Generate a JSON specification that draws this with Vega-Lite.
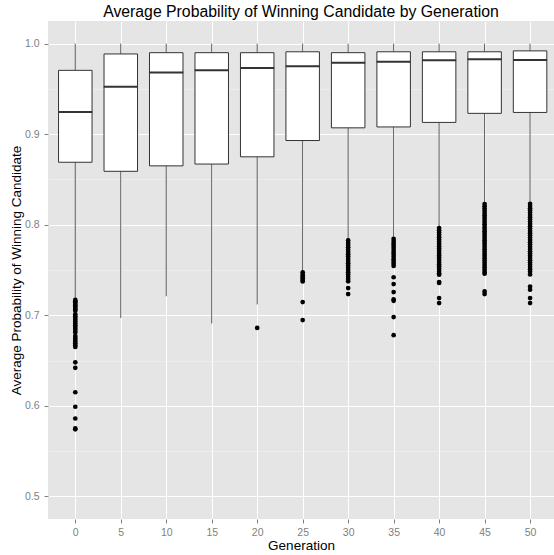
{
  "$schema": "https://vega.github.io/schema/vega-lite/v6.json",
  "autosize": {"type": "none"},
  "padding": {"left": 48, "top": 21, "right": 0, "bottom": 36},
  "width": 506,
  "height": 498,
  "background": "#FFFFFF",
  "title": {
    "text": "Average Probability of Winning Candidate by Generation",
    "font": "Liberation Sans",
    "fontSize": 15.8,
    "fontWeight": "normal",
    "color": "#000000",
    "anchor": "middle",
    "offset": 0
  },
  "config": {
    "view": {"stroke": null, "fill": "#E5E5E5"},
    "font": "Liberation Sans",
    "axis": {
      "domain": false,
      "labelFont": "Liberation Sans",
      "labelFontSize": 10.5,
      "labelColor": "#7F7F7F",
      "tickColor": "#7F7F7F",
      "tickSize": 4,
      "titleFont": "Liberation Sans",
      "titleFontSize": 13.5,
      "titleFontWeight": "normal",
      "titleColor": "#000000",
      "gridColor": "#FFFFFF",
      "gridWidth": 1
    }
  },
  "datasets": {
    "boxes": [
      {"generation": 0, "lower": 0.718, "q1": 0.869, "median": 0.9245, "q3": 0.9705, "upper": 1.0},
      {"generation": 5, "lower": 0.697, "q1": 0.859, "median": 0.9525, "q3": 0.9886, "upper": 1.0},
      {"generation": 10, "lower": 0.721, "q1": 0.865, "median": 0.968, "q3": 0.990, "upper": 1.0},
      {"generation": 15, "lower": 0.691, "q1": 0.867, "median": 0.9705, "q3": 0.990, "upper": 1.0},
      {"generation": 20, "lower": 0.712, "q1": 0.875, "median": 0.973, "q3": 0.990, "upper": 1.0},
      {"generation": 25, "lower": 0.748, "q1": 0.893, "median": 0.975, "q3": 0.991, "upper": 1.0},
      {"generation": 30, "lower": 0.784, "q1": 0.907, "median": 0.979, "q3": 0.990, "upper": 1.0},
      {"generation": 35, "lower": 0.786, "q1": 0.908, "median": 0.980, "q3": 0.991, "upper": 1.0},
      {"generation": 40, "lower": 0.796, "q1": 0.913, "median": 0.9816, "q3": 0.991, "upper": 1.0},
      {"generation": 45, "lower": 0.823, "q1": 0.923, "median": 0.9827, "q3": 0.991, "upper": 1.0},
      {"generation": 50, "lower": 0.824, "q1": 0.924, "median": 0.982, "q3": 0.992, "upper": 1.0}
    ],
    "outliers": [
      {"generation": 0, "value": 0.717}, {"generation": 0, "value": 0.7155}, {"generation": 0, "value": 0.714},
      {"generation": 0, "value": 0.7125}, {"generation": 0, "value": 0.711}, {"generation": 0, "value": 0.7095},
      {"generation": 0, "value": 0.708}, {"generation": 0, "value": 0.7065}, {"generation": 0, "value": 0.705},
      {"generation": 0, "value": 0.701}, {"generation": 0, "value": 0.699}, {"generation": 0, "value": 0.697},
      {"generation": 0, "value": 0.695}, {"generation": 0, "value": 0.693}, {"generation": 0, "value": 0.691},
      {"generation": 0, "value": 0.689}, {"generation": 0, "value": 0.687}, {"generation": 0, "value": 0.685},
      {"generation": 0, "value": 0.683}, {"generation": 0, "value": 0.681},
      {"generation": 0, "value": 0.677}, {"generation": 0, "value": 0.675}, {"generation": 0, "value": 0.673},
      {"generation": 0, "value": 0.671}, {"generation": 0, "value": 0.669}, {"generation": 0, "value": 0.667},
      {"generation": 0, "value": 0.665},
      {"generation": 0, "value": 0.648}, {"generation": 0, "value": 0.642}, {"generation": 0, "value": 0.615},
      {"generation": 0, "value": 0.599}, {"generation": 0, "value": 0.586}, {"generation": 0, "value": 0.575},
      {"generation": 0, "value": 0.574},
      {"generation": 20, "value": 0.686},
      {"generation": 25, "value": 0.7474}, {"generation": 25, "value": 0.745}, {"generation": 25, "value": 0.743},
      {"generation": 25, "value": 0.741}, {"generation": 25, "value": 0.739}, {"generation": 25, "value": 0.7374},
      {"generation": 25, "value": 0.7146}, {"generation": 25, "value": 0.6947},
      {"generation": 30, "value": 0.7827}, {"generation": 30, "value": 0.780}, {"generation": 30, "value": 0.7775},
      {"generation": 30, "value": 0.775}, {"generation": 30, "value": 0.7725}, {"generation": 30, "value": 0.770},
      {"generation": 30, "value": 0.7675}, {"generation": 30, "value": 0.765}, {"generation": 30, "value": 0.7625},
      {"generation": 30, "value": 0.760}, {"generation": 30, "value": 0.7575}, {"generation": 30, "value": 0.755},
      {"generation": 30, "value": 0.7525}, {"generation": 30, "value": 0.750}, {"generation": 30, "value": 0.7475},
      {"generation": 30, "value": 0.745}, {"generation": 30, "value": 0.7425}, {"generation": 30, "value": 0.740},
      {"generation": 30, "value": 0.7375}, {"generation": 30, "value": 0.730}, {"generation": 30, "value": 0.7234},
      {"generation": 35, "value": 0.7845}, {"generation": 35, "value": 0.782}, {"generation": 35, "value": 0.7795},
      {"generation": 35, "value": 0.777}, {"generation": 35, "value": 0.7745}, {"generation": 35, "value": 0.772},
      {"generation": 35, "value": 0.7695}, {"generation": 35, "value": 0.767}, {"generation": 35, "value": 0.7645},
      {"generation": 35, "value": 0.762}, {"generation": 35, "value": 0.7595}, {"generation": 35, "value": 0.757},
      {"generation": 35, "value": 0.7545}, {"generation": 35, "value": 0.742}, {"generation": 35, "value": 0.7345},
      {"generation": 35, "value": 0.7256}, {"generation": 35, "value": 0.7175}, {"generation": 35, "value": 0.716},
      {"generation": 35, "value": 0.698}, {"generation": 35, "value": 0.678},
      {"generation": 40, "value": 0.7963}, {"generation": 40, "value": 0.7938}, {"generation": 40, "value": 0.7913},
      {"generation": 40, "value": 0.7888}, {"generation": 40, "value": 0.7863}, {"generation": 40, "value": 0.7838},
      {"generation": 40, "value": 0.7813}, {"generation": 40, "value": 0.7788}, {"generation": 40, "value": 0.7763},
      {"generation": 40, "value": 0.7738}, {"generation": 40, "value": 0.7713}, {"generation": 40, "value": 0.7688},
      {"generation": 40, "value": 0.7663}, {"generation": 40, "value": 0.7638}, {"generation": 40, "value": 0.7613},
      {"generation": 40, "value": 0.7588}, {"generation": 40, "value": 0.7563}, {"generation": 40, "value": 0.7538},
      {"generation": 40, "value": 0.7513}, {"generation": 40, "value": 0.7488}, {"generation": 40, "value": 0.7463},
      {"generation": 40, "value": 0.7448}, {"generation": 40, "value": 0.7367}, {"generation": 40, "value": 0.7357},
      {"generation": 40, "value": 0.719}, {"generation": 40, "value": 0.7135},
      {"generation": 45, "value": 0.8229}, {"generation": 45, "value": 0.8204}, {"generation": 45, "value": 0.8179},
      {"generation": 45, "value": 0.8154}, {"generation": 45, "value": 0.8129}, {"generation": 45, "value": 0.8104},
      {"generation": 45, "value": 0.8079}, {"generation": 45, "value": 0.8054}, {"generation": 45, "value": 0.8029},
      {"generation": 45, "value": 0.8004}, {"generation": 45, "value": 0.7979}, {"generation": 45, "value": 0.7954},
      {"generation": 45, "value": 0.7929}, {"generation": 45, "value": 0.7904}, {"generation": 45, "value": 0.7879},
      {"generation": 45, "value": 0.7854}, {"generation": 45, "value": 0.7829}, {"generation": 45, "value": 0.7804},
      {"generation": 45, "value": 0.7779}, {"generation": 45, "value": 0.7754}, {"generation": 45, "value": 0.7729},
      {"generation": 45, "value": 0.7704}, {"generation": 45, "value": 0.7679}, {"generation": 45, "value": 0.7654},
      {"generation": 45, "value": 0.7629}, {"generation": 45, "value": 0.7604}, {"generation": 45, "value": 0.7579},
      {"generation": 45, "value": 0.7554}, {"generation": 45, "value": 0.7529}, {"generation": 45, "value": 0.7504},
      {"generation": 45, "value": 0.7479}, {"generation": 45, "value": 0.7459}, {"generation": 45, "value": 0.7263},
      {"generation": 45, "value": 0.7234},
      {"generation": 50, "value": 0.8232}, {"generation": 50, "value": 0.8207}, {"generation": 50, "value": 0.8182},
      {"generation": 50, "value": 0.8157}, {"generation": 50, "value": 0.8132}, {"generation": 50, "value": 0.8107},
      {"generation": 50, "value": 0.8082}, {"generation": 50, "value": 0.8057}, {"generation": 50, "value": 0.8032},
      {"generation": 50, "value": 0.8007}, {"generation": 50, "value": 0.7982}, {"generation": 50, "value": 0.7957},
      {"generation": 50, "value": 0.7932}, {"generation": 50, "value": 0.7907}, {"generation": 50, "value": 0.7882},
      {"generation": 50, "value": 0.7857}, {"generation": 50, "value": 0.7832}, {"generation": 50, "value": 0.7807},
      {"generation": 50, "value": 0.7782}, {"generation": 50, "value": 0.7757}, {"generation": 50, "value": 0.7732},
      {"generation": 50, "value": 0.7707}, {"generation": 50, "value": 0.7682}, {"generation": 50, "value": 0.7657},
      {"generation": 50, "value": 0.7632}, {"generation": 50, "value": 0.7607}, {"generation": 50, "value": 0.7582},
      {"generation": 50, "value": 0.7557}, {"generation": 50, "value": 0.7532}, {"generation": 50, "value": 0.7507},
      {"generation": 50, "value": 0.7482}, {"generation": 50, "value": 0.745}, {"generation": 50, "value": 0.7318},
      {"generation": 50, "value": 0.7282}, {"generation": 50, "value": 0.719}, {"generation": 50, "value": 0.7135}
    ]
  },
  "layer": [
    {
      "data": {"name": "boxes"},
      "mark": {"type": "rule", "color": "#333333", "strokeWidth": 0.8},
      "encoding": {
        "x": {
          "field": "generation",
          "type": "quantitative",
          "scale": {"domain": [-3, 52.63], "nice": false, "zero": false, "padding": 0},
          "axis": {
            "title": "Generation",
            "values": [0, 5, 10, 15, 20, 25, 30, 35, 40, 45, 50],
            "format": "d",
            "labelPadding": 4,
            "titlePadding": 1
          }
        },
        "y": {
          "field": "lower",
          "type": "quantitative",
          "scale": {"domain": [0.475, 1.025], "nice": false, "zero": false, "padding": 0},
          "axis": {
            "title": "Average Probability of Winning Candidate",
            "values": [0.5, 0.55, 0.6, 0.65, 0.7, 0.75, 0.8, 0.85, 0.9, 0.95, 1.0],
            "labelExpr": "abs(datum.value*10 - round(datum.value*10)) > 0.01 ? '' : format(datum.value, '.1f')",
            "gridColor": {"condition": {"test": "abs(datum.value*10 - round(datum.value*10)) > 0.01", "value": "#F2F2F2"}, "value": "#FFFFFF"},
            "gridWidth": {"condition": {"test": "abs(datum.value*10 - round(datum.value*10)) > 0.01", "value": 0.6}, "value": 1.1},
            "tickOpacity": {"condition": {"test": "abs(datum.value*10 - round(datum.value*10)) > 0.01", "value": 0}, "value": 1},
            "labelPadding": 5,
            "titlePadding": 1
          }
        },
        "y2": {"field": "upper"}
      }
    },
    {
      "data": {"name": "boxes"},
      "mark": {"type": "bar", "size": 33.5, "fill": "#FFFFFF", "stroke": "#333333", "strokeWidth": 1},
      "encoding": {
        "x": {"field": "generation", "type": "quantitative"},
        "y": {"field": "q1", "type": "quantitative"},
        "y2": {"field": "q3"}
      }
    },
    {
      "data": {"name": "boxes"},
      "mark": {"type": "tick", "orient": "horizontal", "size": 34, "thickness": 2, "color": "#333333", "opacity": 1},
      "encoding": {
        "x": {"field": "generation", "type": "quantitative"},
        "y": {"field": "median", "type": "quantitative"}
      }
    },
    {
      "data": {"name": "outliers"},
      "mark": {"type": "circle", "size": 22, "color": "#000000", "opacity": 1},
      "encoding": {
        "x": {"field": "generation", "type": "quantitative"},
        "y": {"field": "value", "type": "quantitative"}
      }
    }
  ]
}
